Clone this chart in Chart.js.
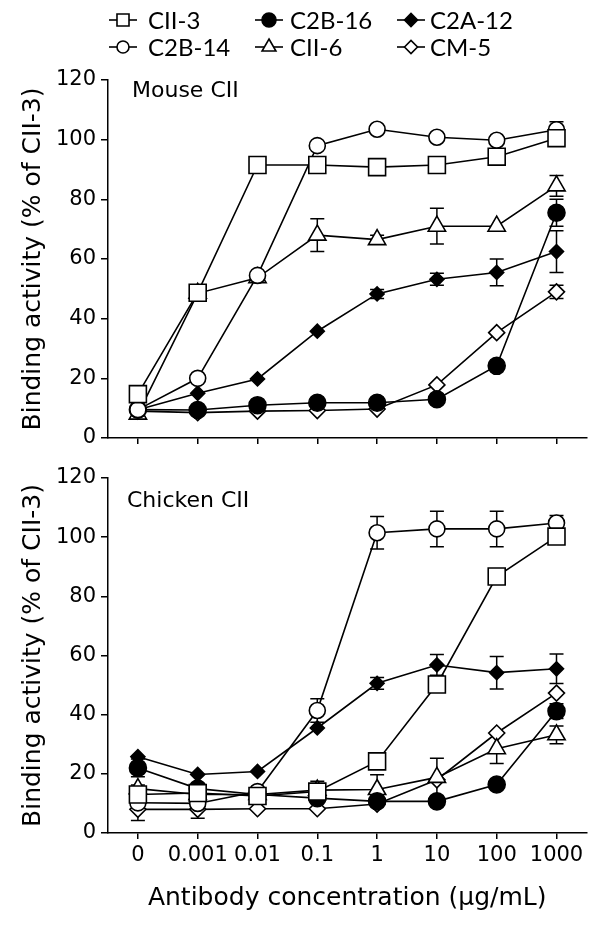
<!DOCTYPE html>
<html>
<head>
<meta charset="utf-8">
<script src="https://cdn.jsdelivr.net/npm/chart.js@4.4.1/dist/chart.umd.min.js"></script>
<style>
  body { margin: 0; background: #fff; }
  .wrap { position: relative; width: 600px; height: 928px; }
  canvas { position: absolute; left: 0; }
</style>
</head>
<body>
<div class="wrap">
  <canvas id="top" width="600" height="460" style="top:0"></canvas>
  <canvas id="bottom" width="600" height="468" style="top:460px"></canvas>
</div>
<script>
// concentrations on the x axis
const xLabels = ['0', '0.001', '0.01', '0.1', '1', '10', '100', '1000'];
const seriesNames = ['CII-3', 'C2B-14', 'C2B-16', 'CII-6', 'C2A-12', 'CM-5'];

// Mouse CII (top panel), % of CII-3
const mouseCII3  = [14.7, 48.7, 91.5, 91.5, 90.8, 91.5, 94.3, 100.5];
const mouseC2B14 = [9.5, 20, 54.5, 98, 103.5, 100.8, 99.8, 103.3];
const mouseC2B16 = [9.5, 9.4, 11, 11.8, 11.8, 13, 24.2, 75.5];
const mouseCII6  = [8, 48.5, 53.7, 68, 66.5, 71, 71, 84.5];
const mouseC2A12 = [9.5, 15, 19.8, 35.8, 48.3, 53.2, 55.5, 62.5];
const mouseCM5   = [9, 8.5, 9, 9.2, 9.7, 17.8, 35.3, 49];
// error bars (+/-)
const mouseErrCII3  = [0, 0, 0, 0, 0, 0, 0, 2];
const mouseErrC2B14 = [0, 0, 0, 0, 0, 0, 0, 2.7];
const mouseErrC2B16 = [0, 0, 0, 0, 0, 0, 0, 4.5];
const mouseErrCII6  = [0, 0, 0, 5.5, 1.5, 6, 0, 3.5];
const mouseErrC2A12 = [0, 0, 0, 0, 1.5, 2, 4.5, 7];
const mouseErrCM5   = [0, 0, 0, 0, 0, 0, 0, 2.2];

// Chicken CII (bottom panel)
const chickCII3  = [13, 13.5, 12.5, 14, 24.2, 50.2, 86.7, 100.2];
const chickC2B14 = [10.2, 10, 14, 41.4, 101.5, 102.8, 102.8, 104.8];
const chickC2B16 = [22, 15, 13, 11.8, 10.7, 10.7, 16.4, 41.2];
const chickCII6  = [15, 13, 13, 14.5, 14.7, 18.8, 28.5, 33.2];
const chickC2A12 = [25.8, 19.8, 20.8, 35.5, 50.6, 56.8, 54.2, 55.5];
const chickCM5   = [8, 8, 8.2, 8.2, 9.8, 18, 33.8, 47.3];
const chickErrCII3  = [2, 0, 0, 2.5, 0, 0, 0, 1.5];
const chickErrC2B14 = [6, 5, 0, 4, 5.5, 6, 6, 2.5];
const chickErrC2B16 = [3, 0, 0, 0, 0, 1.5, 0, 2.5];
const chickErrCII6  = [0, 0, 0, 3, 5, 6.5, 5, 3];
const chickErrC2A12 = [0, 0, 0, 0, 2, 3.5, 5.5, 5];
const chickErrCM5   = [0, 0, 0, 0, 0, 0, 0, 0];

// marker look per series: [pointStyle, fill, plot radius, legend radius]
const markers = [
  ['rect', '#fff', 12, 8.5],
  ['circle', '#fff', 8, 6],
  ['circle', '#000', 8.5, 7],
  ['triangle', '#fff', 10, 8],
  ['rectRot', '#000', 7, 6.5],
  ['rectRot', '#fff', 8, 6.5]
];

const sansFont = 'DejaVu Sans';

function makeDatasets(values) {
  return values.map((vals, i) => ({
    label: seriesNames[i],
    data: vals,
    borderColor: '#000',
    borderWidth: 1.6,
    pointStyle: markers[i][0],
    pointBackgroundColor: markers[i][1],
    pointBorderColor: '#000',
    pointBorderWidth: 1.6,
    pointRadius: markers[i][2],
    tension: 0
  }));
}

const errorBars = {
  id: 'errorBars',
  beforeDatasetsDraw(chart, args, opts) {
    const ctx = chart.ctx, y = chart.scales.y;
    ctx.save();
    ctx.strokeStyle = '#000';
    ctx.lineWidth = 1.5;
    chart.data.datasets.forEach((ds, i) => {
      const meta = chart.getDatasetMeta(i);
      opts.errors[i].forEach((e, j) => {
        if (!e) return;
        const px = meta.data[j].x;
        const top = y.getPixelForValue(ds.data[j] + e);
        const bot = y.getPixelForValue(ds.data[j] - e);
        ctx.beginPath();
        ctx.moveTo(px, top); ctx.lineTo(px, bot);
        ctx.moveTo(px - 7, top); ctx.lineTo(px + 7, top);
        ctx.moveTo(px - 7, bot); ctx.lineTo(px + 7, bot);
        ctx.stroke();
      });
    });
    ctx.restore();
  }
};

const panelLabel = {
  id: 'panelLabel',
  afterDraw(chart, args, opts) {
    const ctx = chart.ctx;
    ctx.save();
    ctx.fillStyle = '#000';
    ctx.font = '22px "' + sansFont + '"';
    ctx.textBaseline = 'alphabetic';
    ctx.fillText(opts.text, opts.x, opts.y);
    ctx.restore();
  }
};

// legend with a short line through each marker, two rows of three
const lineLegend = {
  id: 'lineLegend',
  afterDraw(chart) {
    const ctx = chart.ctx;
    const markX = [123, 269, 411];
    const textX = [148, 290, 430];
    const rowY = [20, 47];
    ctx.save();
    chart.data.datasets.forEach((ds, i) => {
      const col = Math.floor(i / 2), row = i % 2;
      const cx = markX[col], cy = rowY[row];
      ctx.strokeStyle = '#000';
      ctx.lineWidth = 1.6;
      ctx.beginPath();
      ctx.moveTo(cx - 14, cy); ctx.lineTo(cx + 14, cy);
      ctx.stroke();
      ctx.fillStyle = markers[i][1];
      Chart.helpers.drawPoint(ctx, {
        pointStyle: markers[i][0], radius: markers[i][3], rotation: 0, borderWidth: 1.6
      }, cx, cy);
      ctx.fillStyle = '#000';
      ctx.font = '24px Lato';
      ctx.textBaseline = 'middle';
      ctx.fillText(ds.label, textX[col], cy + 1);
    });
    ctx.restore();
  }
};

function makeOptions(isBottom, label, labelY, errors) {
  return {
    responsive: false,
    animation: false,
    layout: { padding: { top: isBottom ? 18 : 80, right: 13, left: 0, bottom: 0 } },
    plugins: {
      legend: { display: false },
      tooltip: { enabled: false },
      errorBars: { errors },
      panelLabel: { text: label, x: isBottom ? 127 : 132, y: labelY }
    },
    scales: {
      x: {
        type: 'category',
        offset: true,
        grid: { offset: false, drawOnChartArea: false, tickLength: 6, color: '#000', lineWidth: 1.5 },
        border: { color: '#000', width: 1.5 },
        ticks: {
          display: isBottom, color: '#000', padding: 4, maxRotation: 0, autoSkip: false,
          font: { family: sansFont, size: 21 }
        },
        title: {
          display: isBottom,
          text: 'Antibody concentration (\u03bcg/mL)',
          color: '#000',
          font: { family: sansFont, size: 25, lineHeight: 1.2 },
          padding: { top: 0, bottom: 15 }
        },
        afterFit: s => { s.height = isBottom ? 95 : 22; }
      },
      y: {
        min: 0, max: 120,
        grid: { drawOnChartArea: false, tickLength: 7, color: '#000', lineWidth: 1.5 },
        border: { color: '#000', width: 1.5 },
        ticks: { stepSize: 20, color: '#000', padding: 5, font: { family: sansFont, size: 21 } },
        title: {
          display: true,
          text: 'Binding activity (% of CII-3)',
          color: '#000',
          font: { family: sansFont, size: 25, lineHeight: 1.2 },
          padding: { top: 18, bottom: 0 }
        },
        afterFit: s => { s.width = 108; }
      }
    }
  };
}

new Chart(document.getElementById('top'), {
  type: 'line',
  data: {
    labels: xLabels,
    datasets: makeDatasets([mouseCII3, mouseC2B14, mouseC2B16, mouseCII6, mouseC2A12, mouseCM5])
  },
  options: makeOptions(false, 'Mouse CII', 97,
    [mouseErrCII3, mouseErrC2B14, mouseErrC2B16, mouseErrCII6, mouseErrC2A12, mouseErrCM5]),
  plugins: [errorBars, panelLabel, lineLegend]
});

new Chart(document.getElementById('bottom'), {
  type: 'line',
  data: {
    labels: xLabels,
    datasets: makeDatasets([chickCII3, chickC2B14, chickC2B16, chickCII6, chickC2A12, chickCM5])
  },
  options: makeOptions(true, 'Chicken CII', 47,
    [chickErrCII3, chickErrC2B14, chickErrC2B16, chickErrCII6, chickErrC2A12, chickErrCM5]),
  plugins: [errorBars, panelLabel]
});
</script>
</body>
</html>
